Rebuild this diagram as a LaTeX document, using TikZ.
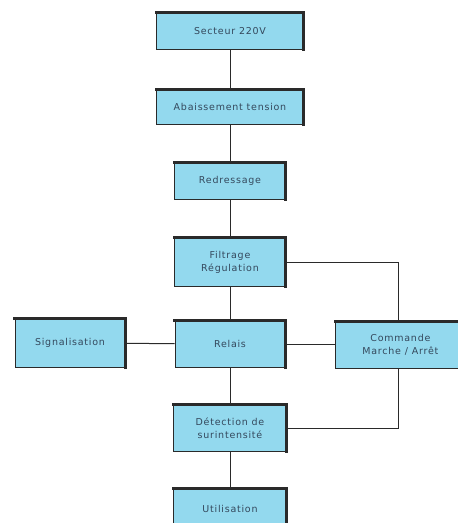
\documentclass[tikz,border=0pt]{standalone}
\usepackage{fontspec}
\usepackage{xcolor}
\usepackage{tikz}
\usetikzlibrary{positioning}
\newfontfamily\boxfont[LetterSpace=8]{DejaVu Sans}
\definecolor{boxfill}{HTML}{93D9EE}
\definecolor{boxtext}{HTML}{34485C}
\definecolor{boxline}{HTML}{2A2A2A}
\tikzset{
  blk/.style={rectangle, fill=boxfill, draw=boxline, line width=0.8pt, align=center,
    font=\boxfont\fontsize{9.5}{13}\selectfont, text=boxtext, inner sep=2pt},
  rim/.style={draw=boxline, line width=3pt, line cap=rect},
  wire/.style={draw=boxline, line width=1pt}
}

\begin{document}
\begin{tikzpicture}[x=1pt, y=-1pt]
  \clip (0,0) rectangle (458,523);
  \fill[white] (0,0) rectangle (458,523);

  % Main chain
  \node[blk, minimum width=147pt, minimum height=36pt] (sect) at (230,31) {Secteur 220V};
  \node[blk, minimum width=147pt, minimum height=35pt] (abai) at (230,107) {Abaissement tension};
  \node[blk, minimum width=111pt, minimum height=36pt] (redr) at (230,181) {Redressage};
  \node[blk, minimum width=111pt, minimum height=49pt] (filt) at (230,262) {Filtrage\\Régulation};
  \node[blk, minimum width=110pt, minimum height=46pt] (rel) at (230,344) {Relais};
  \node[blk, minimum width=113pt, minimum height=47pt] (det) at (230,428) {Détection de\\surintensité};
  \node[blk, minimum width=113pt, minimum height=40pt] (util) at (230,509) {Utilisation};

  % Side blocks
  \node[blk, minimum width=110pt, minimum height=48pt] (sig) at (70,343) {Signalisation};
  \node[blk, minimum width=130pt, minimum height=46pt, anchor=west] (cmd) at (335,345)
    {Commande\\Marche / Arrêt};

  % Heavy top and right edges
  \foreach \b in {sect,abai,redr,filt,rel,det,util,sig,cmd}
    \draw[rim] (\b.north west) -- (\b.north east) -- (\b.south east);

  % Links
  \draw[wire] (sect) -- (abai);
  \draw[wire] (abai) -- (redr);
  \draw[wire] (redr) -- (filt);
  \draw[wire] (filt) -- (rel);
  \draw[wire] (rel) -- (det);
  \draw[wire] (det) -- (util);
  \draw[wire] (rel) -- (sig);
  \draw[wire] (rel.east) -- (rel.east -| cmd.west);
  \draw[wire] (filt.east) -| (398,0 |- cmd.north);
  \draw[wire] (398,0 |- cmd.south) |- (det.east);
\end{tikzpicture}
\end{document}
